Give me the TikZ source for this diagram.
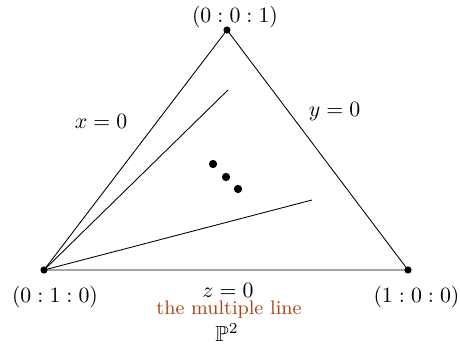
\documentclass[tikz,border=0pt]{standalone}
\usepackage{amssymb}
\definecolor{labbrown}{RGB}{170,68,20}
\begin{document}
\begin{tikzpicture}[x=0.459pt,y=-0.459pt,
  pt/.style={circle,fill=black,inner sep=0pt,minimum size=3.3pt},
  smalldot/.style={circle,fill=black,inner sep=0pt,minimum size=3.8pt},
  lbl/.style={inner sep=0pt}]
\useasboundingbox (0,0) rectangle (460,345);
\node[pt] (A) at (44,270) {};
\node[pt] (B) at (408,270) {};
\node[pt] (C) at (227,30) {};
\coordinate (P) at (228,90);
\coordinate (Q) at (312,200);
\draw (A.center) -- (B.center) -- (C.center) -- cycle;
\draw (A.center) -- (P);
\draw (A.center) -- (Q);
\node[smalldot] (d1) at (213,164) {};
\node[smalldot] (d2) at (226,177) {};
\node[smalldot] (d3) at (238,189) {};
\node[lbl] (lc) at (235,17) {$(0:0:1)$};
\node[lbl] (la) at (55,297.5) {$(0:1:0)$};
\node[lbl] (lb) at (416.5,297.5) {$(1:0:0)$};
\node[lbl] (lx) at (101,121) {$x=0$};
\node[lbl] (ly) at (334.5,111.5) {$y=0$};
\node[lbl] (lz) at (228,290) {$z=0$};
\node[lbl,text=labbrown,font=\small] (lm) at (229,310) {the multiple line};
\node[lbl] (lp) at (227,333) {$\mathbb{P}^2$};
\end{tikzpicture}
\end{document}
